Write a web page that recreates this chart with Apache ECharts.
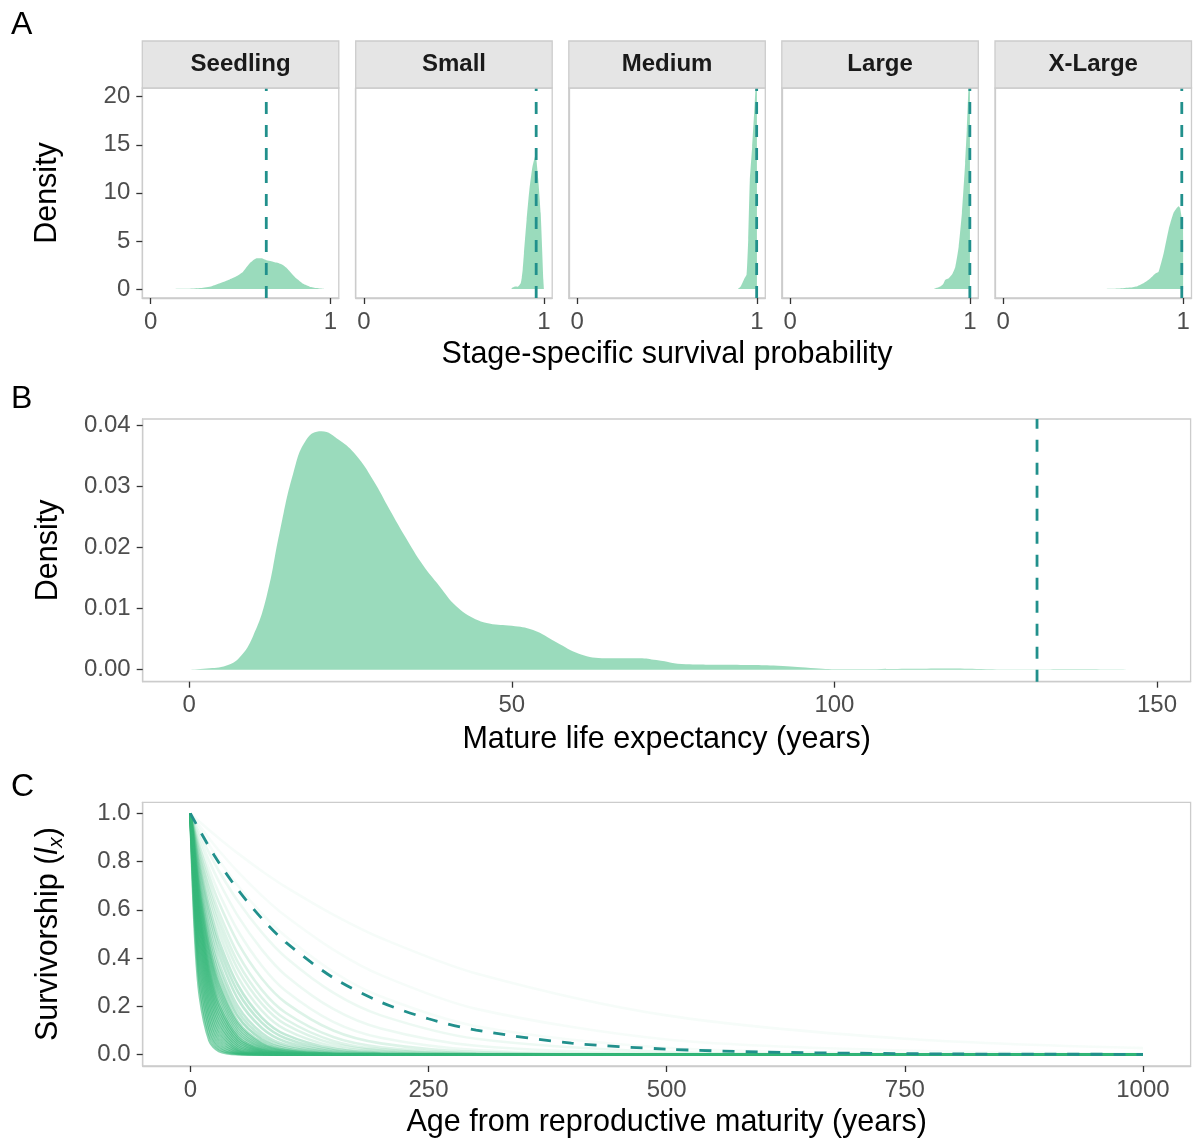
<!DOCTYPE html>
<html>
<head>
<meta charset="utf-8">
<title>Stage survival, life expectancy and survivorship</title>
<script src="https://cdn.jsdelivr.net/npm/echarts@6/dist/echarts.min.js"></script>
<style>
  html, body { margin: 0; padding: 0; background: #ffffff; }
  #chart { width: 1195px; height: 1144px; }
</style>
</head>
<body>
<div id="chart"></div>
<script>
// ---------- values ----------

// A: stage-specific survival probability densities
var stageNames = ['Seedling', 'Small', 'Medium', 'Large', 'X-Large'];

var seedlingProb = [0.10, 0.20, 0.28, 0.34, 0.385, 0.44, 0.48, 0.514, 0.552, 0.589, 0.617, 0.644, 0.67, 0.70, 0.73, 0.756, 0.785, 0.811, 0.848, 0.885, 0.922, 0.968];
var seedlingDens = [0, 0.02, 0.1, 0.3, 0.6, 1.0, 1.35, 1.8, 2.7, 3.2, 3.2, 3.0, 2.9, 2.75, 2.55, 2.2, 1.6, 1.1, 0.55, 0.25, 0.1, 0];

var smallProb = [0.819, 0.825, 0.835, 0.843, 0.855, 0.871, 0.877, 0.882, 0.889, 0.904, 0.919, 0.936, 0.954, 0.968, 0.982, 0.997, 1.0];
var smallDens = [0, 0.15, 0.25, 0.27, 0.25, 0.6, 1.2, 2.0, 3.7, 7.2, 10.3, 12.7, 14.0, 11.5, 7.9, 0.9, 0];

var mediumProb = [0.893, 0.91, 0.927, 0.942, 0.951, 0.96, 0.973, 0.984, 0.995, 0.999, 1.0];
var mediumDens = [0, 0.3, 0.97, 1.5, 5.1, 11.3, 14.8, 18.3, 22, 24, 0];

var largeProb = [0.799, 0.82, 0.835, 0.85, 0.863, 0.88, 0.9, 0.918, 0.937, 0.955, 0.973, 0.982, 0.991, 0.999, 1.0];
var largeDens = [0, 0.15, 0.27, 0.5, 0.97, 1.1, 1.5, 2.3, 4.4, 7.9, 13.1, 16.5, 20.7, 23, 0];

var xlargeProb = [0.563, 0.60, 0.642, 0.706, 0.745, 0.779, 0.81, 0.844, 0.863, 0.891, 0.919, 0.946, 0.974, 0.983, 0.993, 0.999, 1.0];
var xlargeDens = [0, 0.02, 0.05, 0.15, 0.3, 0.6, 1.0, 1.6, 1.8, 3.7, 6.2, 7.9, 8.6, 8.4, 7.2, 6.5, 0];

// dashed reference value per stage
var stageRef = [0.643, 0.957, 0.998, 0.999, 0.992];

// B: mature life expectancy density
var lifeExp = [0, 2.7, 5.8, 7.8, 9.9, 12.0, 14.0, 16.1, 18.2, 20.5, 23.3, 25.9, 28.5, 31.1, 33.6, 36.2, 38.8, 41.4, 44.0, 46.5, 50.0, 53.3, 56.9, 60.5, 64.6, 69.8, 72.4, 77.0, 83.8, 91.2, 96.3, 100.9, 106.5, 112, 117.9, 123.6, 129.2, 137.7, 143.5, 147];
var lifeExpDens = [0, 0.0002, 0.0007, 0.0020, 0.0055, 0.0120, 0.0224, 0.0321, 0.0378, 0.0391, 0.0376, 0.0351, 0.0311, 0.0262, 0.0216, 0.0172, 0.0137, 0.0104, 0.0085, 0.0076, 0.0072, 0.0065, 0.0045, 0.0026, 0.0019, 0.0019, 0.0016, 0.0009, 0.0008, 0.00065, 0.0003, 0.0001, 0.0001, 0.00015, 0.0002, 0.0001, 0.00005, 0.0001, 0.00005, 0];
var lifeExpRef = 131.4;

// C: survivorship curves (l_x) at these ages
var survAge = [0, 5, 10, 20, 30, 50, 75, 100, 150, 200, 300, 500, 750, 1000];
var survCurves = [
  [1, 0.490, 0.240, 0.057, 0.014, 0.001, 0, 0, 0, 0, 0, 0, 0, 0],
  [1, 0.535, 0.287, 0.082, 0.024, 0.002, 0, 0, 0, 0, 0, 0, 0, 0],
  [1, 0.574, 0.329, 0.108, 0.036, 0.004, 0, 0, 0, 0, 0, 0, 0, 0],
  [1, 0.607, 0.368, 0.135, 0.050, 0.007, 0.001, 0, 0, 0, 0, 0, 0, 0],
  [1, 0.635, 0.403, 0.162, 0.065, 0.011, 0.001, 0, 0, 0, 0, 0, 0, 0],
  [1, 0.659, 0.435, 0.189, 0.082, 0.016, 0.002, 0, 0, 0, 0, 0, 0, 0],
  [1, 0.681, 0.463, 0.215, 0.099, 0.021, 0.003, 0, 0, 0, 0, 0, 0, 0],
  [1, 0.700, 0.490, 0.240, 0.117, 0.028, 0.005, 0.001, 0, 0, 0, 0, 0, 0],
  [1, 0.717, 0.513, 0.264, 0.135, 0.036, 0.007, 0.001, 0, 0, 0, 0, 0, 0],
  [1, 0.732, 0.535, 0.287, 0.153, 0.044, 0.009, 0.002, 0, 0, 0, 0, 0, 0],
  [1, 0.745, 0.555, 0.308, 0.171, 0.053, 0.012, 0.003, 0, 0, 0, 0, 0, 0],
  [1, 0.757, 0.574, 0.329, 0.189, 0.062, 0.016, 0.004, 0, 0, 0, 0, 0, 0],
  [1, 0.769, 0.591, 0.349, 0.206, 0.072, 0.019, 0.005, 0, 0, 0, 0, 0, 0],
  [1, 0.779, 0.607, 0.368, 0.223, 0.082, 0.024, 0.007, 0.001, 0, 0, 0, 0, 0],
  [1, 0.788, 0.621, 0.386, 0.240, 0.092, 0.028, 0.009, 0.001, 0, 0, 0, 0, 0],
  [1, 0.797, 0.635, 0.403, 0.256, 0.103, 0.033, 0.011, 0.001, 0, 0, 0, 0, 0],
  [1, 0.805, 0.647, 0.419, 0.271, 0.114, 0.038, 0.013, 0.001, 0, 0, 0, 0, 0],
  [1, 0.812, 0.659, 0.435, 0.287, 0.125, 0.044, 0.016, 0.002, 0, 0, 0, 0, 0],
  [1, 0.819, 0.670, 0.449, 0.301, 0.135, 0.050, 0.018, 0.002, 0, 0, 0, 0, 0],
  [1, 0.831, 0.691, 0.477, 0.329, 0.157, 0.062, 0.025, 0.004, 0.001, 0, 0, 0, 0],
  [1, 0.842, 0.708, 0.502, 0.355, 0.178, 0.075, 0.032, 0.006, 0.001, 0, 0, 0, 0],
  [1, 0.851, 0.724, 0.525, 0.380, 0.199, 0.089, 0.040, 0.008, 0.002, 0, 0, 0, 0],
  [1, 0.863, 0.745, 0.555, 0.414, 0.230, 0.110, 0.053, 0.012, 0.003, 0, 0, 0, 0],
  [1, 0.874, 0.763, 0.582, 0.444, 0.259, 0.132, 0.067, 0.017, 0.004, 0, 0, 0, 0],
  [1, 0.882, 0.779, 0.607, 0.472, 0.287, 0.153, 0.082, 0.024, 0.007, 0.001, 0, 0, 0],
  [1, 0.893, 0.797, 0.635, 0.506, 0.321, 0.182, 0.103, 0.033, 0.011, 0.001, 0, 0, 0],
  [1, 0.901, 0.812, 0.659, 0.535, 0.353, 0.210, 0.125, 0.044, 0.016, 0.002, 0, 0, 0],
  [1, 0.908, 0.825, 0.681, 0.562, 0.382, 0.236, 0.146, 0.056, 0.021, 0.003, 0, 0, 0],
  [1, 0.916, 0.839, 0.704, 0.591, 0.416, 0.268, 0.173, 0.072, 0.030, 0.005, 0, 0, 0],
  [1, 0.926, 0.857, 0.735, 0.630, 0.463, 0.315, 0.215, 0.099, 0.046, 0.010, 0, 0, 0],
  [1, 0.936, 0.875, 0.766, 0.670, 0.513, 0.368, 0.264, 0.135, 0.069, 0.018, 0.001, 0, 0],
  [1, 0.946, 0.895, 0.801, 0.717, 0.574, 0.435, 0.329, 0.189, 0.108, 0.036, 0.004, 0, 0],
  [1, 0.956, 0.913, 0.834, 0.761, 0.635, 0.506, 0.403, 0.256, 0.162, 0.065, 0.011, 0.001, 0],
  [1, 0.965, 0.931, 0.867, 0.807, 0.700, 0.585, 0.490, 0.343, 0.240, 0.117, 0.028, 0.005, 0.001],
  [1, 0.973, 0.946, 0.895, 0.846, 0.757, 0.659, 0.574, 0.435, 0.329, 0.189, 0.062, 0.016, 0.004],
  [1, 0.982, 0.964, 0.930, 0.897, 0.834, 0.761, 0.695, 0.580, 0.483, 0.336, 0.162, 0.065, 0.026]
];

// dashed reference survivorship
var refAge = [0, 25, 50, 75, 100, 150, 200, 250, 300, 400, 500, 600, 700, 800, 900, 1000];
var refLx = [1, 0.826, 0.683, 0.564, 0.466, 0.318, 0.217, 0.148, 0.101, 0.047, 0.022, 0.010, 0.005, 0.002, 0.001, 0.0005];

// tick positions
var probTicks = [0, 1];
var densTicksA = [0, 5, 10, 15, 20];
var lifeTicks = [0, 50, 100, 150];
var densTicksB = [0, 0.01, 0.02, 0.03, 0.04];
var ageTicks = [0, 250, 500, 750, 1000];
var lxTicks = [0, 0.2, 0.4, 0.6, 0.8, 1.0];

// ---------- drawing ----------
var FONT = '"Liberation Sans", Arial, Helvetica, sans-serif';
var FILL = 'rgba(53,183,121,0.5)';
var REF_COL = '#21908C';
var BORDER = '#CCCCCC';
var TICK_COL = '#333333';
var LABEL_COL = '#4D4D4D';

var facetLeft = [142.3, 355.7, 568.8, 781.8, 995];
var facetW = 196.5;
var yMinA = -0.93, yMaxA = 20.9;
var yMinB = -0.00196, yMaxB = 0.0411;

var stageProb = [seedlingProb, smallProb, mediumProb, largeProb, xlargeProb];
var stageDens = [seedlingDens, smallDens, mediumDens, largeDens, xlargeDens];

function pairs(xs, ys) {
	var out = [];
	for (var i = 0; i < xs.length; i++) {
		out.push([xs[i], ys[i]]);
	}
	return out;
}

function plain(v) {
	return String(v);
}

function makeAxis(gridIndex, min, max, ticks, showLabels, fmt) {
	return {
		type: 'value',
		gridIndex: gridIndex,
		min: min,
		max: max,
		axisLine: {show: true, onZero: false, lineStyle: {color: BORDER, width: 1.3}},
		axisTick: {show: showLabels, length: 6, customValues: ticks, lineStyle: {color: TICK_COL, width: 1.3}},
		axisLabel: {show: showLabels, customValues: ticks, formatter: fmt, color: LABEL_COL,
			fontSize: 24, fontFamily: FONT, margin: 12},
		splitLine: {show: false}
	};
}

function nameStyle() {
	return {fontSize: 30.5, fontFamily: FONT, color: '#000000'};
}

var grids = [];
var xAxes = [];
var yAxes = [];
var series = [];
var graphics = [];

// panel A: one facet per stage
for (var i = 0; i < stageNames.length; i++) {
	grids.push({left: facetLeft[i], top: 88, width: facetW, height: 210,
		show: true, borderColor: BORDER, borderWidth: 1.3});

	var xa = makeAxis(i, -0.046, 1.046, probTicks, true, plain);
	if (i === 2) {
		xa.name = 'Stage-specific survival probability';
		xa.nameLocation = 'middle';
		xa.nameGap = 41;
		xa.nameTextStyle = nameStyle();
	}
	xAxes.push(xa);

	var ya = makeAxis(i, yMinA, yMaxA, densTicksA, i === 0, plain);
	if (i === 0) {
		ya.name = 'Density';
		ya.nameLocation = 'middle';
		ya.nameGap = 79;
		ya.nameTextStyle = nameStyle();
	}
	yAxes.push(ya);

	series.push({
		type: 'line', xAxisIndex: i, yAxisIndex: i,
		data: pairs(stageProb[i], stageDens[i]),
		symbol: 'none', smooth: 0.15,
		lineStyle: {width: 0, opacity: 0},
		areaStyle: {color: FILL, opacity: 1},
		silent: true, z: 2
	});
	series.push({
		type: 'line', xAxisIndex: i, yAxisIndex: i,
		data: [[stageRef[i], yMinA], [stageRef[i], yMaxA]],
		symbol: 'none',
		lineStyle: {color: REF_COL, width: 2.8, type: [12, 11]},
		silent: true, z: 3
	});

	// strip above facet
	graphics.push({
		type: 'rect', z: 10,
		shape: {x: facetLeft[i], y: 41, width: facetW, height: 47},
		style: {fill: '#E5E5E5', stroke: BORDER, lineWidth: 1.3}
	});
	graphics.push({
		type: 'text', z: 11, x: facetLeft[i] + facetW / 2, y: 64.5,
		style: {text: stageNames[i], fill: '#1A1A1A', align: 'center', verticalAlign: 'middle',
			font: 'bold 24px ' + FONT}
	});
}

// panel B: life expectancy density
grids.push({left: 142.7, top: 419, width: 1047.9, height: 262.7,
	show: true, borderColor: BORDER, borderWidth: 1.3});
var xb = makeAxis(5, -7.2, 155.2, lifeTicks, true, plain);
xb.name = 'Mature life expectancy (years)';
xb.nameLocation = 'middle';
xb.nameGap = 42;
xb.nameTextStyle = nameStyle();
xAxes.push(xb);
var yb = makeAxis(5, yMinB, yMaxB, densTicksB, true, function (v) { return v.toFixed(2); });
yb.name = 'Density';
yb.nameLocation = 'middle';
yb.nameGap = 79;
yb.nameTextStyle = nameStyle();
yAxes.push(yb);

series.push({
	type: 'line', xAxisIndex: 5, yAxisIndex: 5,
	data: pairs(lifeExp, lifeExpDens),
	symbol: 'none', smooth: 0.45,
	lineStyle: {width: 0, opacity: 0},
	areaStyle: {color: FILL, opacity: 1},
	silent: true, z: 2
});
series.push({
	type: 'line', xAxisIndex: 5, yAxisIndex: 5,
	data: [[lifeExpRef, yMinB], [lifeExpRef, yMaxB]],
	symbol: 'none',
	lineStyle: {color: REF_COL, width: 2.8, type: [12, 11]},
	silent: true, z: 3
});

// panel C: survivorship
grids.push({left: 142.7, top: 802.3, width: 1047.9, height: 263.7,
	show: true, borderColor: BORDER, borderWidth: 1.3});
var xc = makeAxis(6, -50, 1050, ageTicks, true, plain);
xc.name = 'Age from reproductive maturity (years)';
xc.nameLocation = 'middle';
xc.nameGap = 41;
xc.nameTextStyle = nameStyle();
xAxes.push(xc);
var yc = makeAxis(6, -0.048, 1.046, lxTicks, true, function (v) { return v.toFixed(1); });
yc.name = '{n|Survivorship (}{i|l}{s|x}{n|)}';
yc.nameLocation = 'middle';
yc.nameGap = 76;
yc.nameTextStyle = {
	fontSize: 30.5, fontFamily: FONT, color: '#000000',
	rich: {
		n: {fontSize: 30.5, fontFamily: FONT, color: '#000000', lineHeight: 36},
		i: {fontSize: 30.5, fontFamily: FONT, color: '#000000', fontStyle: 'italic', lineHeight: 36},
		s: {fontSize: 21, fontFamily: FONT, color: '#000000', fontStyle: 'italic', lineHeight: 20, verticalAlign: 'bottom'}
	}
};
yAxes.push(yc);

survCurves.forEach(function (curve) {
	// long-lived curves are drawn fainter, as in the figure
	var l100 = curve[7];
	var alpha = l100 < 0.006 ? 0.6 : l100 < 0.03 ? 0.42 : l100 < 0.1 ? 0.3 :
		l100 < 0.25 ? 0.17 : l100 < 0.45 ? 0.09 : 0.045;
	series.push({
		type: 'line', xAxisIndex: 6, yAxisIndex: 6,
		data: pairs(survAge, curve),
		symbol: 'none', smooth: 0.3,
		lineStyle: {color: 'rgba(53,183,121,' + alpha + ')', width: 2.6},
		silent: true, z: 2
	});
});
series.push({
	type: 'line', xAxisIndex: 6, yAxisIndex: 6,
	data: pairs(refAge, refLx),
	symbol: 'none', smooth: 0.3,
	lineStyle: {color: REF_COL, width: 2.8, type: [12, 11]},
	silent: true, z: 3
});

// panel tags
var tags = [['A', 24.7], ['B', 399], ['C', 787.5]];
tags.forEach(function (t) {
	graphics.push({
		type: 'text', z: 11, x: 11, y: t[1],
		style: {text: t[0], fill: '#000000', align: 'left', verticalAlign: 'middle', font: '32px ' + FONT}
	});
});

var chart = echarts.init(document.getElementById('chart'), null, {renderer: 'canvas'});
chart.setOption({
	animation: false,
	backgroundColor: '#ffffff',
	grid: grids,
	xAxis: xAxes,
	yAxis: yAxes,
	series: series,
	graphic: graphics
});
</script>
</body>
</html>
